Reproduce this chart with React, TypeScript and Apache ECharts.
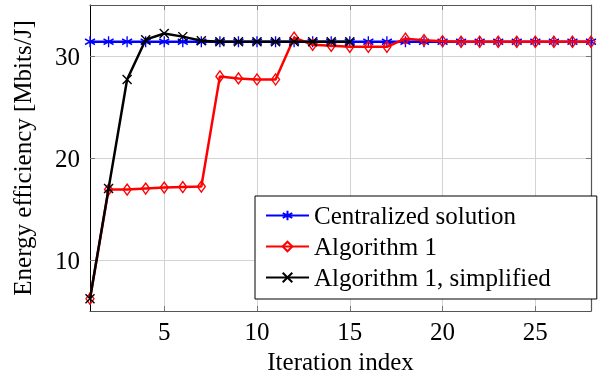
import React, { useEffect, useRef } from "react";
import * as echarts from "echarts";

const iterations = [1, 2, 3, 4, 5, 6, 7, 8, 9, 10, 11, 12, 13, 14, 15, 16, 17, 18, 19, 20, 21, 22, 23, 24, 25, 26, 27, 28];
const centralized = [31.4, 31.4, 31.4, 31.4, 31.4, 31.4, 31.4, 31.4, 31.4, 31.4, 31.4, 31.4, 31.4, 31.4, 31.4, 31.4, 31.4, 31.4, 31.4, 31.4, 31.4, 31.4, 31.4, 31.4, 31.4, 31.4, 31.4, 31.4];
const algorithm1 = [6.2, 16.9, 16.9, 17.0, 17.1, 17.15, 17.2, 28.0, 27.8, 27.7, 27.7, 31.8, 31.1, 31.0, 30.9, 30.9, 30.9, 31.7, 31.55, 31.45, 31.4, 31.4, 31.4, 31.4, 31.4, 31.4, 31.4, 31.4];
const simplified = [6.2, 17.0, 27.7, 31.6, 32.2, 31.9, 31.5, 31.4, 31.4, 31.4, 31.4, 31.4, 31.4, 31.4, 31.4];
const xTicks = [5, 10, 15, 20, 25];
const yTicks = [10, 20, 30];
const seriesNames = ["Centralized solution", "Algorithm 1", "Algorithm 1, simplified"];

const FONT = "Liberation Serif";
const ASTERISK = "path://M0,-1L0,1M-0.866,-0.5L0.866,0.5M-0.866,0.5L0.866,-0.5";
const DIAMOND = "path://M0,-1L0.6,0L0,1L-0.6,0Z";
const CROSS = "path://M-1,-1L1,1M-1,1L1,-1";

const pairs = (ys: number[]) => ys.map((y, i) => [iterations[i], y]);

export default function App() {
  const ref = useRef<HTMLDivElement>(null);
  useEffect(() => {
    if (!ref.current) return;
    const chart = echarts.init(ref.current, undefined, { renderer: "svg" });
    const tickStyle = { show: true, inside: true, length: 5, lineStyle: { color: "#777", width: 1 } };
    chart.setOption({
      animation: false,
      grid: { left: 90, right: 12, top: 5, bottom: 68 },
      legend: {
        left: 255,
        top: 196,
        orient: "vertical",
        data: seriesNames,
        itemWidth: 43,
        itemHeight: 12,
        itemGap: 6,
        padding: [7, 46, 9, 10],
        borderColor: "#000",
        borderWidth: 1,
        backgroundColor: "#fff",
        textStyle: { fontFamily: FONT, fontSize: 25, color: "#000" },
      },
      xAxis: [
        {
          type: "value",
          min: 1,
          max: 28,
          name: "Iteration index",
          nameLocation: "middle",
          nameGap: 38,
          nameTextStyle: { fontFamily: FONT, fontSize: 25, color: "#000" },
          axisLine: { show: true, lineStyle: { color: "#555", width: 1.2 } },
          axisTick: { ...tickStyle, customValues: xTicks },
          axisLabel: { customValues: xTicks, fontFamily: FONT, fontSize: 25, color: "#000", margin: 8 },
          splitLine: { show: true, lineStyle: { color: "#d3d3d3", width: 1 } },
        },
        {
          type: "value",
          position: "top",
          min: 1,
          max: 28,
          axisLine: { show: true, onZero: false, lineStyle: { color: "#555", width: 1.2 } },
          axisTick: { ...tickStyle, customValues: xTicks },
          axisLabel: { show: false },
          splitLine: { show: false },
        },
      ],
      yAxis: [
        {
          type: "value",
          min: 5,
          max: 35,
          name: "Energy efficiency [Mbits/J]",
          nameLocation: "middle",
          nameGap: 55,
          nameTextStyle: { fontFamily: FONT, fontSize: 25, color: "#000" },
          axisLine: { show: true, onZero: false, lineStyle: { color: "#000", width: 1 } },
          axisTick: { ...tickStyle, customValues: yTicks },
          axisLabel: { customValues: yTicks, fontFamily: FONT, fontSize: 25, color: "#000", margin: 10 },
          splitLine: { show: true, lineStyle: { color: "#d3d3d3", width: 1 } },
        },
        {
          type: "value",
          position: "right",
          min: 5,
          max: 35,
          axisLine: { show: true, onZero: false, lineStyle: { color: "#555", width: 1.2 } },
          axisTick: { ...tickStyle, customValues: yTicks },
          axisLabel: { show: false },
          splitLine: { show: false },
        },
      ],
      series: [
        {
          name: seriesNames[0],
          type: "line",
          data: pairs(centralized),
          symbol: ASTERISK,
          symbolSize: [10, 11],
          z: 2,
          lineStyle: { color: "#0000ff", width: 2.5 },
          itemStyle: { color: "#0000ff", borderColor: "#0000ff", borderWidth: 1.4 },
        },
        {
          name: seriesNames[1],
          type: "line",
          data: pairs(algorithm1),
          symbol: DIAMOND,
          symbolSize: [8, 11],
          z: 3,
          lineStyle: { color: "#ff0000", width: 2.5 },
          itemStyle: { color: "rgba(255,255,255,0)", borderColor: "#ff0000", borderWidth: 1.4 },
        },
        {
          name: seriesNames[2],
          type: "line",
          data: pairs(simplified),
          symbol: CROSS,
          symbolSize: [9, 9],
          z: 4,
          lineStyle: { color: "#000000", width: 2.5 },
          itemStyle: { color: "#000000", borderColor: "#000000", borderWidth: 1.4 },
        },
      ],
    });
    return () => chart.dispose();
  }, []);
  return <div ref={ref} style={{ position: "fixed", left: 0, top: 0, width: 603, height: 379 }} />;
}
